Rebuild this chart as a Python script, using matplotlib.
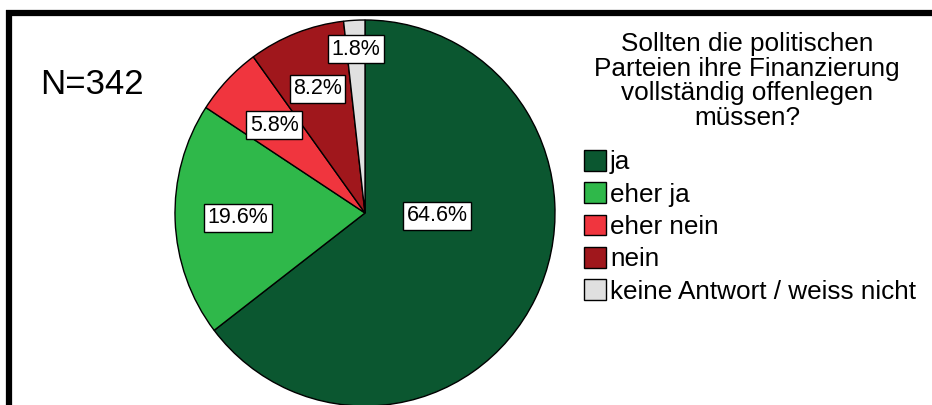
import numpy as np
import matplotlib
matplotlib.use("Agg")
from matplotlib import pyplot as plt
from matplotlib.patches import Patch
from matplotlib.lines import Line2D

plt.rcParams['font.family'] = ['Liberation Sans', 'DejaVu Sans']

# data
categories = ["ja", "eher ja", "eher nein", "nein", "keine Antwort / weiss nicht"]
shares = [64.6, 19.6, 5.8, 8.2, 1.8]
colors = ["#0b5730", "#2fb84a", "#f0353e", "#a0171c", "#e0e0e0"]
n_total = 342
title = "Sollten die politischen\nParteien ihre Finanzierung\nvollständig offenlegen\nmüssen?"

# label placement (radius, angle override or None)
label_r = [0.38, 0.67, 0.66, 0.69, 0.85]
label_ang = [-2, None, None, None, None]

W, H = 932, 405
fig = plt.figure(figsize=(W / 100, H / 100), dpi=100)

# pie axes: centre (365, 213), radii 190 x 193 px
cx, cy, rx, ry = 365, 213, 190, 193
ax = fig.add_axes([(cx - rx) / W, (H - cy - ry) / H, 2 * rx / W, 2 * ry / H])
wedges, _ = ax.pie(shares, colors=colors, startangle=90, counterclock=False,
                   radius=1, wedgeprops=dict(edgecolor="black", linewidth=1.0))
ax.set_xlim(-1, 1)
ax.set_ylim(-1, 1)
ax.set_aspect("auto")
ax.axis("off")

for i, w in enumerate(wedges):
    ang = (w.theta1 + w.theta2) / 2 if label_ang[i] is None else label_ang[i]
    x = label_r[i] * np.cos(np.radians(ang))
    y = label_r[i] * np.sin(np.radians(ang))
    ax.text(x, y, f"{shares[i]:.1f}%", ha="center", va="center", fontsize=15.5,
            bbox=dict(boxstyle="square,pad=0.16", fc="white", ec="black", lw=1.0))

# N text
fig.text(40 / W, 1 - 85 / H, f"N={n_total}", fontsize=25, ha="left", va="center")

# legend title
fig.text(747 / W, 1 - 32 / H, title, fontsize=18.8, ha="center", va="top",
         linespacing=1.03)

handles = [Patch(facecolor=c, edgecolor="black", linewidth=1.0) for c in colors]
fig.legend(handles, categories, loc="upper left",
           bbox_to_anchor=(584 / W, 1 - 150 / H), frameon=False, fontsize=18.8,
           handlelength=0.85, handleheight=0.85, handletextpad=0.15,
           labelspacing=0.3, borderpad=0, borderaxespad=0)

# frame lines (top and left)
fig.add_artist(Line2D([6 / W, 1], [1 - 13 / H, 1 - 13 / H], color="black",
                      linewidth=4.5, transform=fig.transFigure, solid_capstyle="butt"))
fig.add_artist(Line2D([9 / W, 9 / W], [0, 1 - 10 / H], color="black",
                      linewidth=4.5, transform=fig.transFigure, solid_capstyle="butt"))

fig.savefig("out.png", dpi=100)
